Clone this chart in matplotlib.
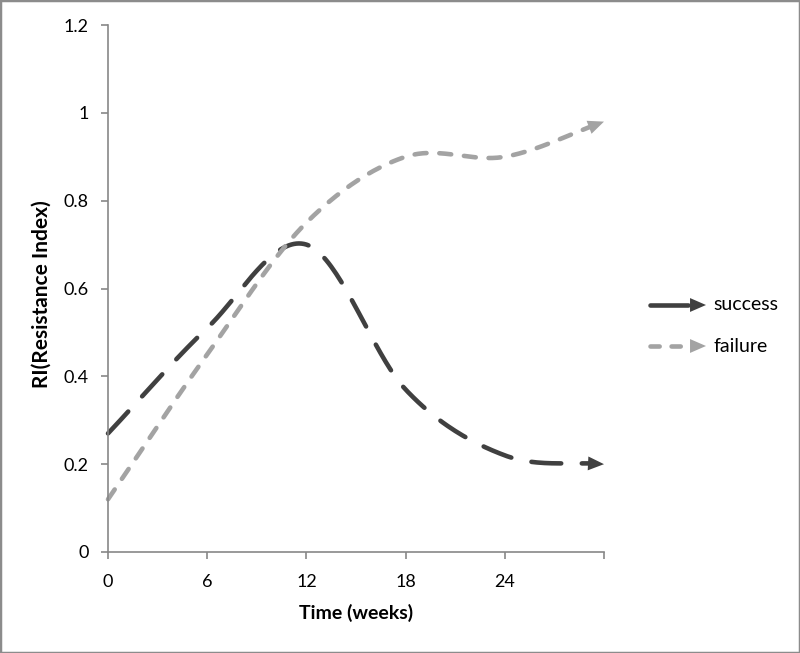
import matplotlib

matplotlib.use("Agg")
import matplotlib.pyplot as plt
import numpy as np
from matplotlib.lines import Line2D
from matplotlib.patches import FancyArrowPatch, Rectangle

plt.rcParams["font.family"] = ["Lato", "DejaVu Sans"]

# data
weeks = [0, 6, 12, 18, 24, 30]
success = [0.27, 0.51, 0.70, 0.37, 0.22, 0.20]
failure = [0.12, 0.45, 0.75, 0.90, 0.90, 0.98]
x_ticks = [0, 6, 12, 18, 24, 30]
x_tick_labels = ["0", "6", "12", "18", "24", ""]
y_ticks = [0, 0.2, 0.4, 0.6, 0.8, 1.0, 1.2]
y_tick_labels = ["0", "0.2", "0.4", "0.6", "0.8", "1", "1.2"]

DARK = "#404040"
LIGHT = "#a3a3a3"
AXIS = "#878787"


def smooth(xs, ys, n=40):
    # Catmull-Rom style smoothing, like Excel's "smoothed line"
    xs = np.asarray(xs, float)
    ys = np.asarray(ys, float)
    m = np.zeros_like(ys)
    m[1:-1] = (ys[2:] - ys[:-2]) / (xs[2:] - xs[:-2])
    m[0] = (ys[1] - ys[0]) / (xs[1] - xs[0])
    m[-1] = (ys[-1] - ys[-2]) / (xs[-1] - xs[-2])
    out_x, out_y = [], []
    for i in range(len(xs) - 1):
        h = xs[i + 1] - xs[i]
        t = np.linspace(0, 1, n, endpoint=False)
        h00 = 2 * t**3 - 3 * t**2 + 1
        h10 = t**3 - 2 * t**2 + t
        h01 = -2 * t**3 + 3 * t**2
        h11 = t**3 - t**2
        out_x.extend(xs[i] + t * h)
        out_y.extend(h00 * ys[i] + h10 * h * m[i] + h01 * ys[i + 1] + h11 * h * m[i + 1])
    out_x.append(xs[-1])
    out_y.append(ys[-1])
    return np.array(out_x), np.array(out_y)


fig = plt.figure(figsize=(8.0, 6.53), dpi=100)
ax = fig.add_axes([108 / 800, 101 / 653, 496 / 800, 527 / 653])

series = [
    (success, DARK, (6.5, 4.5)),
    (failure, LIGHT, (2.6, 2.8)),
]
for values, color, dashes in series:
    sx, sy = smooth(weeks, values)
    cut = sx <= 29.2
    ax.plot(sx[cut], sy[cut], color=color, lw=3.3, dashes=dashes,
            dash_capstyle="round", solid_capstyle="round", clip_on=False)
    ax.annotate("", xy=(sx[-1], sy[-1]), xytext=(sx[-8], sy[-8]),
                arrowprops=dict(arrowstyle="-|>,head_length=1.15,head_width=0.5",
                                mutation_scale=10, color=color, lw=0,
                                shrinkA=0, shrinkB=0),
                annotation_clip=False)

ax.set_xlim(0, 30)
ax.set_ylim(0, 1.2)
ax.set_xticks(x_ticks)
ax.set_xticklabels(x_tick_labels)
ax.set_yticks(y_ticks)
ax.set_yticklabels(y_tick_labels)
for side in ("top", "right"):
    ax.spines[side].set_visible(False)
for side in ("left", "bottom"):
    ax.spines[side].set_color(AXIS)
    ax.spines[side].set_linewidth(1.2)
ax.tick_params(direction="out", length=5, width=1.2, color=AXIS,
               labelsize=13, labelcolor="black")
ax.tick_params(axis="x", pad=11)
ax.tick_params(axis="y", pad=9)
ax.set_xlabel("Time (weeks)", fontsize=14, fontweight="bold")
ax.set_ylabel("RI(Resistance Index)", fontsize=15, fontweight="bold")
ax.xaxis.set_label_coords(0.5, -0.098)
ax.yaxis.set_label_coords(-0.113, 0.49)

# legend drawn on the right side of the figure
legend_items = [("success", DARK, "-", 305), ("failure", LIGHT, (0, (2.0, 2.6)), 346)]
for name, color, style, ypx in legend_items:
    yf = 1 - ypx / 653
    fig.add_artist(Line2D([650 / 800, 688 / 800], [yf, yf], transform=fig.transFigure,
                          color=color, lw=3.3, linestyle=style,
                          dash_capstyle="round", solid_capstyle="round"))
    fig.add_artist(FancyArrowPatch((686 / 800, yf), (706 / 800, yf),
                                   transform=fig.transFigure,
                                   arrowstyle="-|>,head_length=1.15,head_width=0.5",
                                   mutation_scale=10, color=color, lw=0,
                                   shrinkA=0, shrinkB=0))
    fig.text(713 / 800, yf, name, fontsize=14, va="center", ha="left")

fig.add_artist(Rectangle((0, 0), 1, 1, transform=fig.transFigure, fill=False,
                         edgecolor="#8c8c8c", lw=2.5))

fig.savefig("out.png", dpi=100, facecolor="white")
